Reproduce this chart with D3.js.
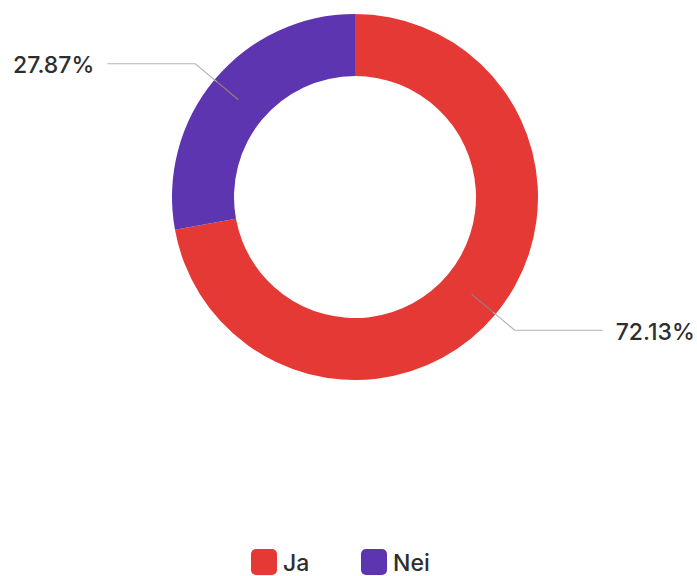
<!DOCTYPE html>
<html>
<head>
<meta charset="utf-8">
<script src="https://cdn.jsdelivr.net/npm/d3@7"></script>
<style>
  html, body { margin: 0; padding: 0; background: #ffffff; }
  svg { display: block; font-family: Inter, "Liberation Sans", Arial, sans-serif; }
</style>
</head>
<body>
<svg id="chart" width="697" height="576"></svg>
<script>
// Survey answers and their shares (percent)
const categories = ["Ja", "Nei"];
const values = [72.13, 27.87];
const colors = ["#e53935", "#5e35b1"];

const width = 697, height = 576;
const cx = 355, cy = 197;
const outerR = 183, innerR = 121;

const svg = d3.select("#chart");

const color = d3.scaleOrdinal().domain(categories).range(colors);

const data = categories.map((c, i) => ({ name: c, value: values[i] }));

const pie = d3.pie().value(d => d.value).sort(null);
const arcs = pie(data);

const arc = d3.arc().innerRadius(innerR).outerRadius(outerR);
const midArc = d3.arc().innerRadius(152).outerRadius(152);
const elbowArc = d3.arc().innerRadius(208).outerRadius(208);

const g = svg.append("g").attr("transform", `translate(${cx},${cy})`);

g.selectAll("path.slice")
  .data(arcs)
  .join("path")
  .attr("class", "slice")
  .attr("d", arc)
  .attr("fill", d => color(d.data.name));

// Leader lines from the ring to each percentage label
const lineLen = 88;
arcs.forEach(a => {
  const p0 = midArc.centroid(a);
  const p1 = elbowArc.centroid(a);
  const right = p1[0] > 0;
  const p2 = [p1[0] + (right ? lineLen : -lineLen), p1[1]];
  g.append("polyline")
    .attr("points", [p0, p1, p2].map(p => p.join(",")).join(" "))
    .attr("fill", "none")
    .attr("stroke", "#b5b5b5")
    .attr("stroke-width", 1.2);
  g.append("line")
    .attr("x1", p0[0]).attr("y1", p0[1])
    .attr("x2", p0[0] + (p1[0] - p0[0]) * 0.5)
    .attr("y2", p0[1] + (p1[1] - p0[1]) * 0.5)
    .attr("stroke", "#7a2a2a")
    .attr("stroke-opacity", 0.45)
    .attr("stroke-width", 1.2);
  g.append("text")
    .attr("x", p2[0] + (right ? 13 : -13))
    .attr("y", p2[1] + 1)
    .attr("dy", "0.36em")
    .attr("text-anchor", right ? "start" : "end")
    .attr("font-size", 23)
    .attr("font-weight", 500)
    .attr("fill", "#2e2e2e")
    .text(d3.format(".2f")(a.data.value) + "%");
});

// Legend
const legend = svg.append("g").attr("transform", "translate(251,549)");
const legendX = d3.scaleOrdinal().domain(categories).range([0, 110]);
const items = legend.selectAll("g.item")
  .data(categories)
  .join("g")
  .attr("class", "item")
  .attr("transform", d => `translate(${legendX(d)},0)`);
items.append("rect")
  .attr("width", 26).attr("height", 26)
  .attr("rx", 5).attr("ry", 5)
  .attr("fill", d => color(d));
items.append("text")
  .attr("x", 32).attr("y", 14)
  .attr("dy", "0.36em")
  .attr("font-size", 23)
  .attr("font-weight", 500)
  .attr("fill", "#2e2e2e")
  .text(d => d);
</script>
</body>
</html>
